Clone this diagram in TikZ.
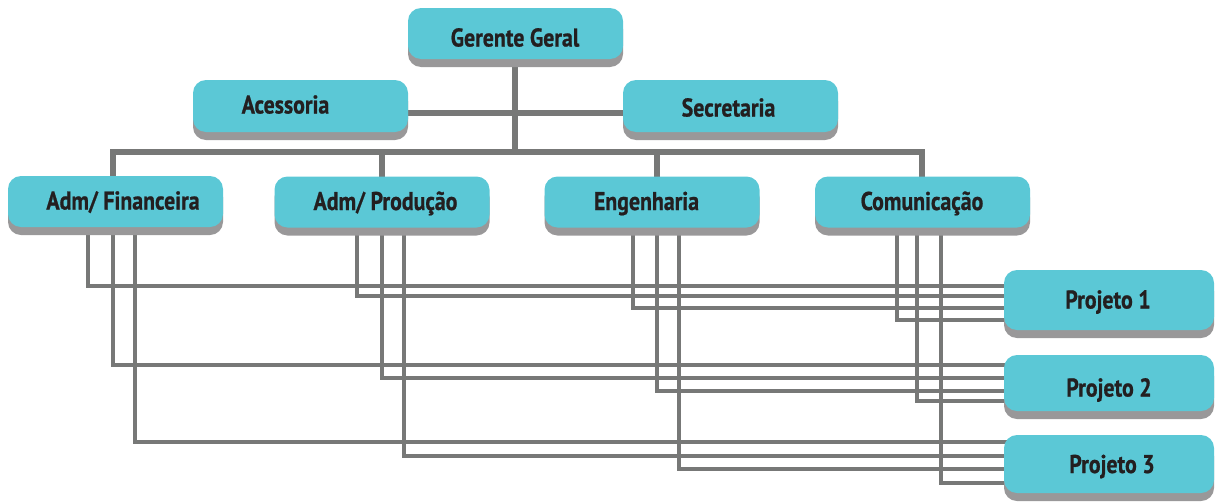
\documentclass[tikz,border=0pt]{standalone}
\usepackage{fontspec}
\newfontfamily\lblfont{PT Sans}[FakeStretch=0.85, BoldFeatures={FakeBold=0.8}]
\usetikzlibrary{shadows,backgrounds}
\definecolor{boxc}{HTML}{5BC8D6}
\definecolor{shc}{HTML}{999899}
\definecolor{linec}{HTML}{777877}
\definecolor{txtc}{HTML}{231F20}
\tikzset{
  box/.style={draw=none, fill=boxc, rounded corners=13pt, inner sep=0pt,
    minimum width=215pt, minimum height=51pt,
    general shadow={fill=shc, shadow yshift=-8pt}},
  pbox/.style={box, minimum width=210pt},
  txt/.style={text=txtc, inner sep=0pt, text height=18pt, text depth=0pt,
    font=\lblfont\bfseries\fontsize{25.7}{26}\selectfont},
  topline/.style={draw=linec, line width=6pt},
  pl/.style={draw=linec, line width=4pt}
}
\newcommand\pline[4]{\draw[pl] ([xshift=#2pt]#1.center) |- ([yshift=#4pt]#3.center);}
\begin{document}
\begin{tikzpicture}[x=1pt,y=-1pt]
\useasboundingbox (0,0) rectangle (1215,501);
% boxes
\node[box, label={[txt,xshift=-0.5pt,yshift=-4pt]center:Gerente Geral}] (gg) at (515.5,33.5) {};
\node[box, minimum height=52pt, label={[txt,xshift=-15pt,yshift=1.5pt]center:Acessoria}] (aces) at (300.5,106) {};
\node[box, minimum height=52pt, label={[txt,xshift=-2pt,yshift=-1.5pt]center:Secretaria}] (sec) at (730.5,106) {};
\node[box, label={[txt,xshift=7.5pt,yshift=1pt]center:Adm/ Financeira}] (fin) at (115.5,201.5) {};
\node[box, label={[txt,xshift=3.5pt,yshift=1pt]center:Adm/ Produção}] (prod) at (382,202) {};
\node[box, label={[txt,xshift=-5.5pt,yshift=1pt]center:Engenharia}] (eng) at (652,202) {};
\node[box, label={[txt,xshift=-0.5pt,yshift=1pt]center:Comunicação}] (com) at (922.5,202) {};
\node[pbox, minimum height=60pt, label={[txt,xshift=-1pt,yshift=0.5pt]center:Projeto 1}] (p1) at (1109,300) {};
\node[pbox, minimum height=56pt, label={[txt,xshift=0pt,yshift=-4.5pt]center:Projeto 2}] (p2) at (1109,383) {};
\node[pbox, minimum height=58pt, label={[txt,xshift=3pt,yshift=0pt]center:Projeto 3}] (p3) at (1109,464) {};
\coordinate (bus) at (515,152);
\begin{scope}[on background layer]
  \draw[topline] ([yshift=-7pt]aces.center) -- ([yshift=-7pt]sec.center);
  \draw[topline] ([xshift=-0.5pt]gg.center) -- (bus);
  \draw[topline] ([xshift=-2.5pt]fin.center) |- (bus) -| ([xshift=-0.5pt]com.center);
  \draw[topline] (prod.center) -- (prod.center |- bus);
  \draw[topline] ([xshift=5pt]eng.center) -- ([xshift=5pt]eng.center |- bus);
  % project connectors
  \pline{fin}{-27.5}{p1}{14}
  \pline{fin}{-2.5}{p2}{18}
  \pline{fin}{19.5}{p3}{22}
  \pline{prod}{-25}{p1}{4}
  \pline{prod}{0}{p2}{5}
  \pline{prod}{22}{p3}{8}
  \pline{eng}{-19}{p1}{-8}
  \pline{eng}{5}{p2}{-8}
  \pline{eng}{27}{p3}{-5}
  \pline{com}{-25.5}{p1}{-20}
  \pline{com}{-5.5}{p2}{-18}
  \pline{com}{18.5}{p3}{-19}
\end{scope}
\end{tikzpicture}
\end{document}
